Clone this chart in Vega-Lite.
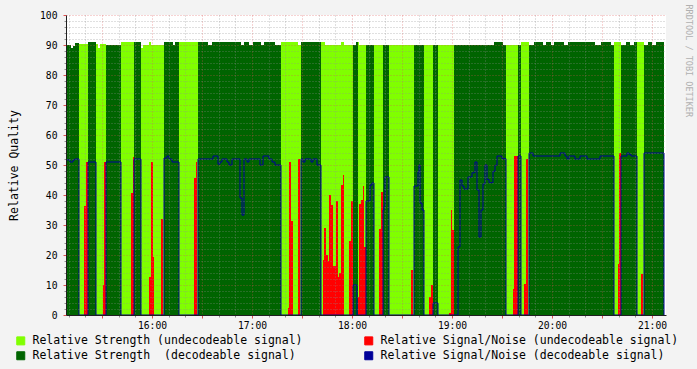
{
  "$schema": "https://vega.github.io/schema/vega-lite/v6.json",
  "width": 600,
  "height": 300,
  "autosize": {"type": "none"},
  "padding": {"left": 66, "top": 15, "right": 31, "bottom": 54},
  "background": "#F3F3F3",
  "view": {"fill": "#FFFFFF", "stroke": null},
  "config": {
    "font": "DejaVu Sans Mono",
    "axis": {"labelFont": "DejaVu Sans Mono", "titleFont": "DejaVu Sans Mono", "labelColor": "#000000", "titleColor": "#000000", "titleFontWeight": "normal", "labelFlush": false}
  },
  "datasets": {
    "strength": [
      {"start": 909.0, "end": 911.4, "value": 90, "series": "sd"},
      {"start": 911.4, "end": 912.6, "value": 89, "series": "sd"},
      {"start": 912.6, "end": 913.8, "value": 89.7, "series": "sd"},
      {"start": 913.8, "end": 916.2, "value": 90.7, "series": "sd"},
      {"start": 916.2, "end": 921.6, "value": 90.3, "series": "su"},
      {"start": 921.6, "end": 926.4, "value": 91, "series": "sd"},
      {"start": 926.4, "end": 927.6, "value": 90.3, "series": "su"},
      {"start": 927.6, "end": 928.8, "value": 89, "series": "su"},
      {"start": 928.8, "end": 932.4, "value": 90.3, "series": "su"},
      {"start": 932.4, "end": 941.4, "value": 90, "series": "sd"},
      {"start": 941.4, "end": 949.2, "value": 91, "series": "su"},
      {"start": 949.2, "end": 953.4, "value": 91, "series": "sd"},
      {"start": 953.4, "end": 954.6, "value": 89, "series": "su"},
      {"start": 954.6, "end": 958.2, "value": 90, "series": "su"},
      {"start": 958.2, "end": 959.4, "value": 91, "series": "su"},
      {"start": 959.4, "end": 967.2, "value": 90, "series": "su"},
      {"start": 967.2, "end": 972.6, "value": 91, "series": "sd"},
      {"start": 972.6, "end": 973.8, "value": 90, "series": "sd"},
      {"start": 973.8, "end": 976.2, "value": 91, "series": "sd"},
      {"start": 976.2, "end": 987.6, "value": 91, "series": "su"},
      {"start": 987.6, "end": 993.6, "value": 91, "series": "sd"},
      {"start": 993.6, "end": 996.0, "value": 90, "series": "sd"},
      {"start": 996.0, "end": 1013.4, "value": 91, "series": "sd"},
      {"start": 1013.4, "end": 1015.2, "value": 90, "series": "sd"},
      {"start": 1015.2, "end": 1018.2, "value": 91, "series": "sd"},
      {"start": 1018.2, "end": 1020.6, "value": 90, "series": "sd"},
      {"start": 1020.6, "end": 1025.4, "value": 91, "series": "sd"},
      {"start": 1025.4, "end": 1027.2, "value": 90, "series": "sd"},
      {"start": 1027.2, "end": 1033.8, "value": 91, "series": "sd"},
      {"start": 1033.8, "end": 1037.4, "value": 90, "series": "sd"},
      {"start": 1037.4, "end": 1047.6, "value": 91, "series": "su"},
      {"start": 1047.6, "end": 1049.4, "value": 90, "series": "su"},
      {"start": 1049.4, "end": 1061.4, "value": 91, "series": "sd"},
      {"start": 1061.4, "end": 1063.8, "value": 91, "series": "su"},
      {"start": 1063.8, "end": 1073.4, "value": 90, "series": "su"},
      {"start": 1073.4, "end": 1075.2, "value": 91, "series": "su"},
      {"start": 1075.2, "end": 1080.6, "value": 90, "series": "su"},
      {"start": 1080.6, "end": 1082.4, "value": 90, "series": "sd"},
      {"start": 1082.4, "end": 1083.6, "value": 91, "series": "sd"},
      {"start": 1083.6, "end": 1084.2, "value": 91, "series": "su"},
      {"start": 1084.2, "end": 1088.4, "value": 90, "series": "su"},
      {"start": 1088.4, "end": 1093.2, "value": 90, "series": "sd"},
      {"start": 1093.2, "end": 1098.6, "value": 90, "series": "su"},
      {"start": 1098.6, "end": 1102.2, "value": 90, "series": "sd"},
      {"start": 1102.2, "end": 1117.2, "value": 90, "series": "su"},
      {"start": 1117.2, "end": 1123.2, "value": 90, "series": "sd"},
      {"start": 1123.2, "end": 1128.6, "value": 90, "series": "su"},
      {"start": 1128.6, "end": 1131.6, "value": 90, "series": "sd"},
      {"start": 1131.6, "end": 1141.2, "value": 90, "series": "su"},
      {"start": 1141.2, "end": 1165.2, "value": 90, "series": "sd"},
      {"start": 1165.2, "end": 1170.6, "value": 91, "series": "sd"},
      {"start": 1170.6, "end": 1172.4, "value": 90, "series": "sd"},
      {"start": 1172.4, "end": 1179.6, "value": 90, "series": "su"},
      {"start": 1179.6, "end": 1181.4, "value": 90, "series": "sd"},
      {"start": 1181.4, "end": 1186.2, "value": 91, "series": "su"},
      {"start": 1186.2, "end": 1189.2, "value": 90, "series": "sd"},
      {"start": 1189.2, "end": 1194.6, "value": 91, "series": "sd"},
      {"start": 1194.6, "end": 1196.4, "value": 90, "series": "sd"},
      {"start": 1196.4, "end": 1199.4, "value": 91, "series": "sd"},
      {"start": 1199.4, "end": 1201.2, "value": 90, "series": "sd"},
      {"start": 1201.2, "end": 1207.2, "value": 91, "series": "sd"},
      {"start": 1207.2, "end": 1209.6, "value": 90, "series": "sd"},
      {"start": 1209.6, "end": 1225.8, "value": 91, "series": "sd"},
      {"start": 1225.8, "end": 1229.4, "value": 90, "series": "sd"},
      {"start": 1229.4, "end": 1235.4, "value": 91, "series": "sd"},
      {"start": 1235.4, "end": 1237.2, "value": 90, "series": "sd"},
      {"start": 1237.2, "end": 1241.4, "value": 91, "series": "su"},
      {"start": 1241.4, "end": 1244.4, "value": 90, "series": "sd"},
      {"start": 1244.4, "end": 1246.8, "value": 91, "series": "sd"},
      {"start": 1246.8, "end": 1249.2, "value": 90, "series": "sd"},
      {"start": 1249.2, "end": 1251.0, "value": 91, "series": "sd"},
      {"start": 1251.0, "end": 1255.2, "value": 91, "series": "su"},
      {"start": 1255.2, "end": 1257.6, "value": 90, "series": "sd"},
      {"start": 1257.6, "end": 1260.0, "value": 91, "series": "sd"},
      {"start": 1260.0, "end": 1262.4, "value": 90, "series": "sd"},
      {"start": 1262.4, "end": 1267.2, "value": 91, "series": "sd"}
    ],
    "snr_undec": [
      {"start": 919.2, "end": 920.4, "value": 36.3, "series": "nu"},
      {"start": 920.4, "end": 921.6, "value": 51, "series": "nu"},
      {"start": 930.6, "end": 931.2, "value": 10, "series": "nu"},
      {"start": 931.2, "end": 932.4, "value": 51, "series": "nu"},
      {"start": 947.4, "end": 948.6, "value": 40.7, "series": "nu"},
      {"start": 948.6, "end": 949.2, "value": 52.7, "series": "nu"},
      {"start": 958.2, "end": 959.4, "value": 12.7, "series": "nu"},
      {"start": 959.4, "end": 960.6, "value": 51, "series": "nu"},
      {"start": 960.6, "end": 961.2, "value": 19.3, "series": "nu"},
      {"start": 965.4, "end": 966.6, "value": 32, "series": "nu"},
      {"start": 985.2, "end": 986.4, "value": 45.7, "series": "nu"},
      {"start": 986.4, "end": 987.0, "value": 51, "series": "nu"},
      {"start": 1041.6, "end": 1042.2, "value": 2.3, "series": "nu"},
      {"start": 1042.2, "end": 1043.4, "value": 51, "series": "nu"},
      {"start": 1043.4, "end": 1044.6, "value": 31.3, "series": "nu"},
      {"start": 1047.6, "end": 1048.8, "value": 52, "series": "nu"},
      {"start": 1062.6, "end": 1063.2, "value": 18.3, "series": "nu"},
      {"start": 1063.2, "end": 1064.4, "value": 29, "series": "nu"},
      {"start": 1064.4, "end": 1065.6, "value": 20, "series": "nu"},
      {"start": 1065.6, "end": 1066.2, "value": 18, "series": "nu"},
      {"start": 1066.2, "end": 1067.4, "value": 40, "series": "nu"},
      {"start": 1067.4, "end": 1068.6, "value": 36.7, "series": "nu"},
      {"start": 1068.6, "end": 1070.4, "value": 16.3, "series": "nu"},
      {"start": 1070.4, "end": 1071.6, "value": 38, "series": "nu"},
      {"start": 1071.6, "end": 1072.2, "value": 12.7, "series": "nu"},
      {"start": 1072.2, "end": 1073.4, "value": 14, "series": "nu"},
      {"start": 1073.4, "end": 1074.6, "value": 43.3, "series": "nu"},
      {"start": 1074.6, "end": 1075.2, "value": 46.7, "series": "nu"},
      {"start": 1078.2, "end": 1079.4, "value": 24.7, "series": "nu"},
      {"start": 1079.4, "end": 1080.6, "value": 38, "series": "nu"},
      {"start": 1083.6, "end": 1084.2, "value": 6, "series": "nu"},
      {"start": 1084.2, "end": 1085.4, "value": 37, "series": "nu"},
      {"start": 1085.4, "end": 1086.6, "value": 38.3, "series": "nu"},
      {"start": 1086.6, "end": 1087.2, "value": 43, "series": "nu"},
      {"start": 1087.2, "end": 1088.4, "value": 22.7, "series": "nu"},
      {"start": 1096.2, "end": 1097.4, "value": 28.7, "series": "nu"},
      {"start": 1097.4, "end": 1098.6, "value": 41, "series": "nu"},
      {"start": 1115.4, "end": 1116.6, "value": 15, "series": "nu"},
      {"start": 1126.2, "end": 1127.4, "value": 6, "series": "nu"},
      {"start": 1127.4, "end": 1128.6, "value": 10, "series": "nu"},
      {"start": 1138.2, "end": 1139.4, "value": 0.7, "series": "nu"},
      {"start": 1139.4, "end": 1140.0, "value": 35, "series": "nu"},
      {"start": 1140.0, "end": 1141.2, "value": 28.3, "series": "nu"},
      {"start": 1176.6, "end": 1177.2, "value": 8.7, "series": "nu"},
      {"start": 1177.2, "end": 1179.6, "value": 53, "series": "nu"},
      {"start": 1183.2, "end": 1184.4, "value": 10.3, "series": "nu"},
      {"start": 1184.4, "end": 1185.6, "value": 52, "series": "nu"},
      {"start": 1239.6, "end": 1240.2, "value": 17, "series": "nu"},
      {"start": 1240.2, "end": 1241.4, "value": 54, "series": "nu"},
      {"start": 1253.4, "end": 1254.6, "value": 13.7, "series": "nu"}
    ],
    "snr_dec": [
      {"t": 909.0, "value": 51.7, "series": "nd"},
      {"t": 910.8, "value": 51, "series": "nd"},
      {"t": 912.6, "value": 51.7, "series": "nd"},
      {"t": 913.8, "value": 52, "series": "nd"},
      {"t": 916.2, "value": 0, "series": "nd"},
      {"t": 921.6, "value": 51, "series": "nd"},
      {"t": 926.4, "value": 0, "series": "nd"},
      {"t": 932.4, "value": 51, "series": "nd"},
      {"t": 941.4, "value": 0, "series": "nd"},
      {"t": 949.2, "value": 52, "series": "nd"},
      {"t": 953.4, "value": 0, "series": "nd"},
      {"t": 967.2, "value": 52.3, "series": "nd"},
      {"t": 969.0, "value": 53, "series": "nd"},
      {"t": 970.2, "value": 52, "series": "nd"},
      {"t": 972.0, "value": 51, "series": "nd"},
      {"t": 976.2, "value": 0, "series": "nd"},
      {"t": 987.6, "value": 52, "series": "nd"},
      {"t": 996.6, "value": 53, "series": "nd"},
      {"t": 999.6, "value": 50.3, "series": "nd"},
      {"t": 1000.8, "value": 51, "series": "nd"},
      {"t": 1002.0, "value": 52, "series": "nd"},
      {"t": 1005.0, "value": 51, "series": "nd"},
      {"t": 1006.2, "value": 50, "series": "nd"},
      {"t": 1008.0, "value": 52, "series": "nd"},
      {"t": 1012.8, "value": 39, "series": "nd"},
      {"t": 1014.0, "value": 33.3, "series": "nd"},
      {"t": 1015.2, "value": 52, "series": "nd"},
      {"t": 1017.0, "value": 51, "series": "nd"},
      {"t": 1018.2, "value": 52, "series": "nd"},
      {"t": 1024.8, "value": 50, "series": "nd"},
      {"t": 1026.6, "value": 53, "series": "nd"},
      {"t": 1030.2, "value": 52, "series": "nd"},
      {"t": 1032.0, "value": 51, "series": "nd"},
      {"t": 1033.8, "value": 50, "series": "nd"},
      {"t": 1037.4, "value": 0, "series": "nd"},
      {"t": 1049.4, "value": 52, "series": "nd"},
      {"t": 1050.6, "value": 51, "series": "nd"},
      {"t": 1051.8, "value": 52, "series": "nd"},
      {"t": 1055.4, "value": 51, "series": "nd"},
      {"t": 1056.6, "value": 52, "series": "nd"},
      {"t": 1059.0, "value": 50, "series": "nd"},
      {"t": 1061.4, "value": 0, "series": "nd"},
      {"t": 1080.6, "value": 10, "series": "nd"},
      {"t": 1083.0, "value": 0, "series": "nd"},
      {"t": 1088.4, "value": 38, "series": "nd"},
      {"t": 1090.8, "value": 43.3, "series": "nd"},
      {"t": 1092.0, "value": 44, "series": "nd"},
      {"t": 1093.2, "value": 0, "series": "nd"},
      {"t": 1098.6, "value": 35, "series": "nd"},
      {"t": 1099.2, "value": 36.3, "series": "nd"},
      {"t": 1099.8, "value": 46, "series": "nd"},
      {"t": 1102.2, "value": 0, "series": "nd"},
      {"t": 1117.2, "value": 43, "series": "nd"},
      {"t": 1119.6, "value": 47.7, "series": "nd"},
      {"t": 1120.2, "value": 50, "series": "nd"},
      {"t": 1120.8, "value": 37.3, "series": "nd"},
      {"t": 1122.0, "value": 35, "series": "nd"},
      {"t": 1123.2, "value": 0, "series": "nd"},
      {"t": 1128.6, "value": 4, "series": "nd"},
      {"t": 1131.6, "value": 0, "series": "nd"},
      {"t": 1143.6, "value": 22.7, "series": "nd"},
      {"t": 1144.8, "value": 45, "series": "nd"},
      {"t": 1146.0, "value": 43, "series": "nd"},
      {"t": 1147.2, "value": 42, "series": "nd"},
      {"t": 1149.6, "value": 46, "series": "nd"},
      {"t": 1152.0, "value": 47.4, "series": "nd"},
      {"t": 1153.8, "value": 51, "series": "nd"},
      {"t": 1155.0, "value": 41.7, "series": "nd"},
      {"t": 1156.2, "value": 26, "series": "nd"},
      {"t": 1157.4, "value": 35, "series": "nd"},
      {"t": 1158.6, "value": 43.7, "series": "nd"},
      {"t": 1159.8, "value": 50, "series": "nd"},
      {"t": 1161.0, "value": 45.2, "series": "nd"},
      {"t": 1162.2, "value": 44.1, "series": "nd"},
      {"t": 1164.6, "value": 47.9, "series": "nd"},
      {"t": 1165.8, "value": 49.9, "series": "nd"},
      {"t": 1167.0, "value": 53, "series": "nd"},
      {"t": 1170.0, "value": 52.1, "series": "nd"},
      {"t": 1172.4, "value": 0, "series": "nd"},
      {"t": 1179.6, "value": 53, "series": "nd"},
      {"t": 1181.4, "value": 0, "series": "nd"},
      {"t": 1186.2, "value": 54, "series": "nd"},
      {"t": 1188.6, "value": 53, "series": "nd"},
      {"t": 1204.8, "value": 54, "series": "nd"},
      {"t": 1207.8, "value": 53, "series": "nd"},
      {"t": 1209.0, "value": 52, "series": "nd"},
      {"t": 1210.2, "value": 53, "series": "nd"},
      {"t": 1213.8, "value": 52, "series": "nd"},
      {"t": 1216.8, "value": 53, "series": "nd"},
      {"t": 1221.0, "value": 52, "series": "nd"},
      {"t": 1228.8, "value": 53, "series": "nd"},
      {"t": 1237.2, "value": 0, "series": "nd"},
      {"t": 1241.4, "value": 53, "series": "nd"},
      {"t": 1245.0, "value": 54, "series": "nd"},
      {"t": 1246.2, "value": 53.5, "series": "nd"},
      {"t": 1247.4, "value": 53, "series": "nd"},
      {"t": 1251.0, "value": 0, "series": "nd"},
      {"t": 1255.2, "value": 54, "series": "nd"},
      {"t": 1267.2, "value": 0, "series": "nd"}
    ]
  },
  "resolve": {"axis": {"x": "independent", "y": "independent"}},
  "layer": [
    {
      "data": {"name": "strength"},
      "mark": {"type": "rect"},
      "encoding": {
        "x": {"field": "start", "type": "quantitative",
          "scale": {"domain": [908.4, 1268.4], "nice": false, "zero": false},
          "axis": {"orient": "bottom", "zindex": 1, "values": [910, 920, 940, 950, 970, 980, 1000, 1010, 1030, 1040, 1060, 1070, 1090, 1100, 1120, 1130, 1150, 1160, 1180, 1190, 1210, 1220, 1240, 1250],
            "grid": true, "gridColor": "#8F8F8F", "gridOpacity": 0.55, "gridDash": [1, 2], "gridWidth": 1,
            "labels": false, "ticks": true, "tickSize": 2, "tickColor": "#8F8F8F", "domain": false, "title": null}},
        "x2": {"field": "end"},
        "y": {"field": "value", "type": "quantitative",
          "scale": {"domain": [0, 100], "nice": false, "zero": true},
          "axis": {"orient": "left", "zindex": 1, "values": [2, 4, 6, 8, 12, 14, 16, 18, 22, 24, 26, 28, 32, 34, 36, 38, 42, 44, 46, 48, 52, 54, 56, 58, 62, 64, 66, 68, 72, 74, 76, 78, 82, 84, 86, 88, 92, 94, 96, 98],
            "grid": true, "gridColor": "#8F8F8F", "gridOpacity": 0.55, "gridDash": [1, 2], "gridWidth": 1,
            "labels": false, "ticks": true, "tickSize": 2, "tickColor": "#8F8F8F", "domain": false, "title": null}},
        "y2": {"datum": 0},
        "color": {"field": "series", "type": "nominal",
          "scale": {"domain": ["su", "nu", "sd", "nd"], "range": ["#80FF00", "#FF0000", "#006400", "#000099"]},
          "legend": {
            "orient": "none", "legendX": -51, "legendY": 320, "direction": "horizontal", "columns": 2, "title": null,
            "symbolType": "square", "symbolSize": 64, "symbolStrokeWidth": 1, "symbolStrokeColor": "#000000",
            "labelFont": "DejaVu Sans Mono", "labelFontSize": 11.5, "labelColor": "#000000", "labelLimit": 600, "labelOffset": 6,
            "columnPadding": 59, "rowPadding": 2, "padding": 0,
            "labelExpr": "datum.value == 'su' ? 'Relative Strength (undecodeable signal)' : datum.value == 'nu' ? 'Relative Signal/Noise (undecodeable signal)' : datum.value == 'sd' ? 'Relative Strength \u00a0(decodeable signal)' : 'Relative Signal/Noise (decodeable signal)'",
            "encode": {"symbols": {"update": {"fill": {"scale": "color", "field": "value"}, "stroke": {"value": "#000000"}, "strokeWidth": {"value": 1}, "opacity": {"value": 1}}}}
          }}
      }
    },
    {
      "data": {"name": "snr_undec"},
      "mark": {"type": "rect"},
      "encoding": {
        "x": {"field": "start", "type": "quantitative",
          "axis": {"orient": "bottom", "zindex": 1, "values": [930, 960, 990, 1020, 1050, 1080, 1110, 1140, 1170, 1200, 1230, 1260],
            "grid": true, "gridColor": "#DE5050", "gridOpacity": 0.5, "gridDash": [1, 2], "gridWidth": 1,
            "labels": false, "ticks": true, "tickSize": 3, "tickColor": "#DE5050", "domain": false, "title": null}},
        "x2": {"field": "end"},
        "y": {"field": "value", "type": "quantitative",
          "axis": {"orient": "right", "zindex": 1, "grid": false, "labels": false, "ticks": false, "domain": false,
            "title": "RRDTOOL / TOBI OETIKER", "titleFontSize": 8.5, "titleColor": "#B0B0B0", "titleFontWeight": "normal",
            "titleAngle": 90, "titleX": 22, "titleY": -11, "titleAlign": "left", "titleBaseline": "middle"}},
        "y2": {"datum": 0},
        "color": {"field": "series", "type": "nominal"}
      }
    },
    {
      "data": {"name": "snr_dec"},
      "mark": {"type": "line", "interpolate": "step-after", "strokeWidth": 1},
      "encoding": {
        "x": {"field": "t", "type": "quantitative",
          "axis": {"orient": "bottom", "zindex": 1, "values": [960, 1020, 1080, 1140, 1200, 1260],
            "labelExpr": "floor(datum.value / 60) + ':00'", "labelFontSize": 9.7, "labelPadding": 5,
            "grid": false, "ticks": false, "domain": true, "domainColor": "#1F1F1F", "domainWidth": 1, "title": null}},
        "y": {"field": "value", "type": "quantitative",
          "axis": {"orient": "left", "zindex": 1, "values": [0, 10, 20, 30, 40, 50, 60, 70, 80, 90, 100],
            "grid": true, "gridColor": "#DE5050", "gridOpacity": 0.5, "gridDash": [1, 2], "gridWidth": 1,
            "labelFontSize": 9.7, "labelPadding": 6, "ticks": true, "tickSize": 3, "tickColor": "#DE5050",
            "domain": true, "domainColor": "#1F1F1F", "domainWidth": 1,
            "title": "Relative Quality", "titleFontSize": 11.5, "titlePadding": 20}},
        "color": {"field": "series", "type": "nominal"}
      }
    },
    {
      "mark": {"type": "point", "shape": "triangle-up", "filled": true, "size": 22, "color": "#7F1F1F", "opacity": 1, "clip": false},
      "encoding": {
        "x": {"datum": 908.7, "type": "quantitative", "axis": null},
        "y": {"datum": 101.2, "type": "quantitative", "axis": null}
      }
    },
    {
      "mark": {"type": "point", "shape": "triangle-right", "filled": true, "size": 22, "color": "#7F1F1F", "opacity": 1, "clip": false},
      "encoding": {
        "x": {"datum": 1270.5, "type": "quantitative", "axis": null},
        "y": {"datum": 0, "type": "quantitative", "axis": null}
      }
    }
  ]
}
